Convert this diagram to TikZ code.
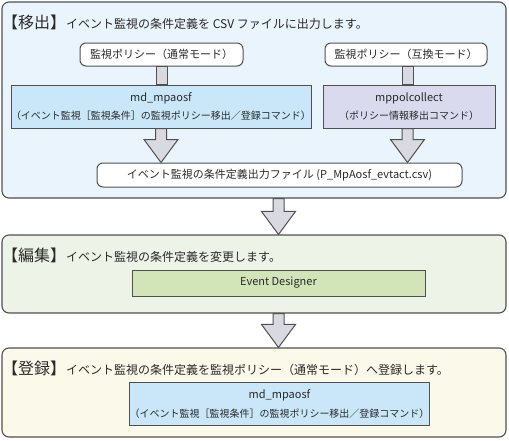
\documentclass[tikz,border=0pt]{standalone}
\usepackage{fontspec}
\newfontfamily\jpfont{Noto Sans CJK JP}
\usepackage{tikz}
\usetikzlibrary{calc, positioning}
\definecolor{LineGray}{HTML}{505050}
\definecolor{TextGray}{HTML}{2A2A2A}
\definecolor{MoveBack}{HTML}{EAF4FD}
\definecolor{EditBack}{HTML}{EEF3E8}
\definecolor{RegBack}{HTML}{FBF9EA}
\definecolor{CmdBlue}{HTML}{C9E7F8}
\definecolor{CmdLilac}{HTML}{DADAEE}
\definecolor{DesignGreen}{HTML}{D1E5B9}
\definecolor{ArrowGray}{HTML}{D9D9E2}

\begin{document}
\begin{tikzpicture}[x=1pt, y=-1pt,
	every node/.style={text=TextGray, font=\jpfont\fontsize{11}{13}\selectfont},
	panel/.style={draw=LineGray, line width=1.1pt, rounded corners=7pt, minimum width=504pt, inner sep=0pt},
	heading/.style={anchor=west, inner sep=0pt, font=\jpfont\fontsize{12}{14}\selectfont},
	polbox/.style={draw=LineGray, line width=1pt, rounded corners=6pt, fill=white, minimum height=23pt, inner sep=0pt},
	cmdbox/.style={draw=LineGray, line width=1pt, minimum height=43pt, inner sep=0pt, align=center},
	stemonly/.style={draw=LineGray, fill=ArrowGray, line width=1pt,
		to path={let \p1=(\tikztostart), \p2=(\tikztotarget) in (\x1-5.5,\y1) rectangle (\x1+5.5,\y2)}},
	blockarrow/.style={draw=LineGray, fill=ArrowGray, line width=1pt, line join=miter,
		to path={let \p1=(\tikztostart), \p2=(\tikztotarget) in
			(\x1-5.5,\y1) -- (\x1-5.5,\y2+23) -- (\x1-17,\y2+23) -- (\x1,\y2)
			-- (\x1+17,\y2+23) -- (\x1+5.5,\y2+23) -- (\x1+5.5,\y1) -- cycle}}]
	\useasboundingbox (0,0) rectangle (509,440);
	
	% Panels
	\node[panel, fill=MoveBack, minimum height=196pt] (move) at (254,100) {};
	\node[panel, fill=EditBack, minimum height=78pt] (edit) at (254,274) {};
	\node[panel, fill=RegBack, minimum height=89pt] (reg) at (254,392.5) {};
	
	\node[heading] (movehead) at (2,22) {{\fontsize{16}{16}\selectfont【移出】}イベント監視の条件定義を CSV ファイルに出力します。};
	\node[heading] (edithead) at (2,255) {{\fontsize{16}{16}\selectfont【編集】}イベント監視の条件定義を変更します。};
	\node[heading] (reghead) at (2,368) {{\fontsize{16}{16}\selectfont【登録】}イベント監視の条件定義を監視ポリシー（通常モード）へ登録します。};
	
	% Export
	\node[polbox, minimum width=163pt] (pol1) at (161.5,54.5) {監視ポリシー（通常モード）};
	\node[polbox, minimum width=162pt] (pol2) at (406,54.5) {監視ポリシー（互換モード）};
	\node[cmdbox, fill=CmdBlue, minimum width=297pt] (cmd1) at (161,106.5)
		{md\_mpaosf\\[5.5pt]{\fontsize{10}{11}\selectfont（イベント監視［監視条件］の監視ポリシー移出／登録コマンド）}};
	\node[cmdbox, fill=CmdLilac, minimum width=172pt] (cmd2) at (409,106.5)
		{mppolcollect\\[5.5pt]{\fontsize{10}{11}\selectfont（ポリシー情報移出コマンド）}};
	\node[polbox, minimum width=365pt, minimum height=24pt] (file) at (279.5,175)
		{イベント監視の条件定義出力ファイル (P\_MpAosf\_evtact.csv)};
	
	% Edit
	\node[draw=LineGray, line width=1pt, fill=DesignGreen, minimum width=293pt, minimum height=26pt, inner sep=0pt] (ed) at (278.5,283) {Event Designer};
	
	% Register
	\node[cmdbox, fill=CmdBlue, minimum width=295pt] (cmd3) at (279.5,404)
		{md\_mpaosf\\[5.5pt]{\fontsize{10}{11}\selectfont（イベント監視［監視条件］の監視ポリシー移出／登録コマンド）}};
	
	% Arrows
	\draw[stemonly] (pol1.south) to (cmd1.north);
	\draw[stemonly] ($(pol2.south)+(1.5,0)$) to (cmd2.north);
	\draw[blockarrow] (cmd1.south) to (file.north);
	\draw[blockarrow] ($(cmd2.south)+(-1.5,0)$) to (file.north);
	\draw[blockarrow] (move.south -| ed.north) to (edit.north -| ed.north);
	\draw[blockarrow] (edit.south -| ed.south) to (reg.north -| ed.south);
\end{tikzpicture}
\end{document}
